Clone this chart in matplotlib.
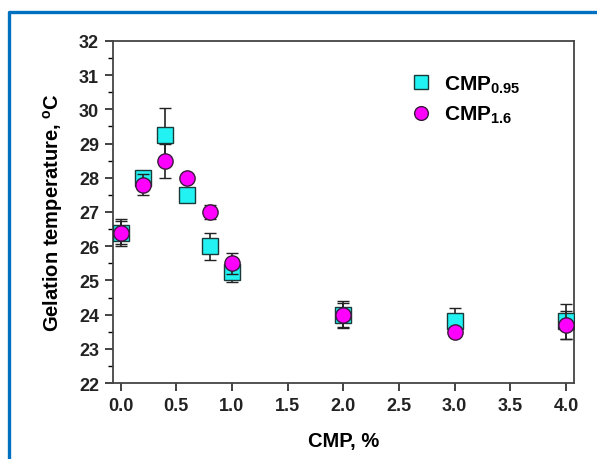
import matplotlib
matplotlib.use("Agg")
import matplotlib.pyplot as plt
from matplotlib.lines import Line2D
from matplotlib.ticker import MultipleLocator

plt.rcParams['font.family'] = ['Liberation Sans', 'DejaVu Sans']
plt.rcParams['mathtext.fontset'] = 'custom'
plt.rcParams['mathtext.rm'] = 'Liberation Sans:bold'
plt.rcParams['mathtext.it'] = 'Liberation Sans:bold'
plt.rcParams['mathtext.bf'] = 'Liberation Sans:bold'

# data
cmp_conc = [0.0, 0.2, 0.4, 0.6, 0.8, 1.0, 2.0, 3.0, 4.0]
temp_095 = [26.4, 28.0, 29.25, 27.5, 26.0, 25.25, 24.0, 23.8, 23.8]
err_095 = [0.35, 0.1, 0.8, 0.1, 0.4, 0.3, 0.4, 0.4, 0.5]
temp_16 = [26.4, 27.8, 28.5, 28.0, 27.0, 25.5, 24.0, 23.5, 23.7]
err_16 = [0.4, 0.3, 0.5, 0.1, 0.2, 0.3, 0.35, 0.1, 0.4]

fig = plt.figure(figsize=(5.97, 4.60), dpi=100)
ax = fig.add_axes([0.189, 0.165, 0.772, 0.744])

ax.errorbar(cmp_conc, temp_095, yerr=err_095, fmt='s', ms=11, mfc='#22F2F2',
            mec='#1a3a3a', mew=1.0, ecolor='#222222', elinewidth=1.2,
            capsize=4.5, capthick=1.2, label='CMP$_{0.95}$', zorder=3)
ax.errorbar(cmp_conc, temp_16, yerr=err_16, fmt='o', ms=11, mfc='#FF00FF',
            mec='#3a1a3a', mew=1.0, ecolor='#222222', elinewidth=1.2,
            capsize=4.5, capthick=1.2, label='CMP$_{1.6}$', zorder=4)

ax.set_xlim(-0.07, 4.07)
ax.set_ylim(22, 32)
ax.xaxis.set_major_locator(MultipleLocator(0.5))
ax.yaxis.set_major_locator(MultipleLocator(1))
ax.yaxis.set_minor_locator(MultipleLocator(0.5))
ax.xaxis.set_major_formatter(matplotlib.ticker.FormatStrFormatter('%.1f'))

ax.tick_params(axis='both', which='major', direction='out', length=6,
               width=1.2, labelsize=13, colors='#222222', pad=4)
ax.tick_params(axis='y', which='minor', direction='out', length=3.5, width=1.0)
for lab in ax.get_xticklabels() + ax.get_yticklabels():
    lab.set_fontweight('bold')
for sp in ax.spines.values():
    sp.set_linewidth(1.3)
    sp.set_color('#444444')

ax.set_xlabel('CMP, %', fontsize=14.5, fontweight='bold', labelpad=12)
ax.set_ylabel('Gelation temperature, $^\\mathrm{o}$C', fontsize=14.5,
              fontweight='bold', labelpad=10)

handles, labels = ax.get_legend_handles_labels()
handles = [h[0] for h in handles]
ax.legend(handles, labels, loc='upper left', bbox_to_anchor=(0.6, 0.96),
          frameon=False, handletextpad=0.5, labelspacing=0.45,
          markerscale=0.9, handlelength=1.2,
          prop={'weight': 'bold', 'size': 15})

# blue frame around the figure
fig.add_artist(Line2D([8.5 / 597, 8.5 / 597, 1.0], [0.0, 1 - 12.5 / 460, 1 - 12.5 / 460],
                      transform=fig.transFigure, color='#0070C0', lw=2.4))

fig.savefig('out.png', dpi=100)
